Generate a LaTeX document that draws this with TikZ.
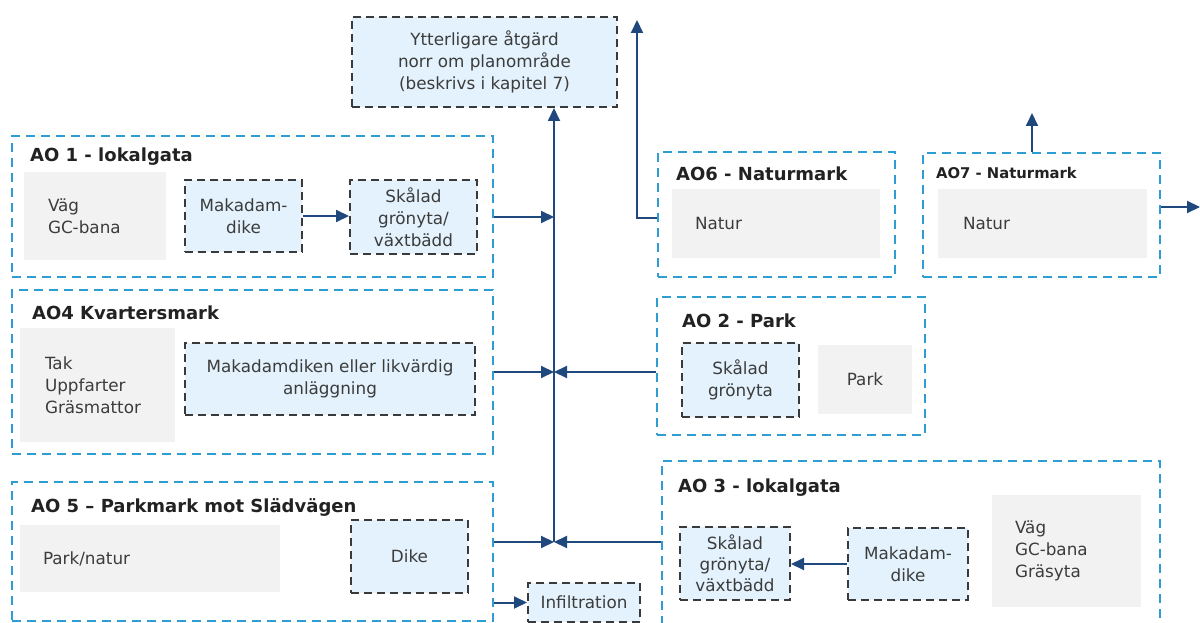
\documentclass[tikz,border=0pt]{standalone}
\usepackage{fontspec}
\setmainfont{DejaVu Sans}
\usetikzlibrary{arrows.meta}
\definecolor{cyanb}{HTML}{2E9DD4}
\definecolor{lblue}{HTML}{E3F2FC}
\definecolor{greyf}{HTML}{F2F2F2}
\definecolor{darkd}{HTML}{3A3A3A}
\definecolor{navy}{HTML}{1F497D}
\definecolor{txt}{HTML}{3C3C3C}
\definecolor{ttlc}{HTML}{222222}
\tikzset{
  aobox/.style={draw=cyanb, fill=white, line width=2.2pt, dash pattern=on 9pt off 6pt, inner sep=0pt},
  mbox/.style={draw=darkd, fill=lblue, line width=2pt, dash pattern=on 8pt off 5pt, inner sep=0pt, align=center, text=txt, font=\fontsize{16.8}{22}\selectfont},
  gbox/.style={fill=greyf, draw=none, inner ysep=0pt, align=left, text=txt, font=\fontsize{16.8}{22}\selectfont},
  ttl/.style={anchor=west, inner sep=0pt, text=ttlc, font=\fontsize{18}{21}\selectfont\bfseries},
  arr/.style={draw=navy, line width=2pt, -{Triangle[length=13pt,width=12pt]}}
}
\begin{document}
\begin{tikzpicture}[x=1pt,y=-1pt]
\useasboundingbox (0,0) rectangle (1200,623);
\clip (0,0) rectangle (1200,623);
\fill[white] (0,0) rectangle (1200,623);

% top box
\node[mbox, minimum width=265, minimum height=90] (ytt) at (484.5,62) {Ytterligare åtgärd\\norr om planområde\\(beskrivs i kapitel 7)};

% AO1
\node[aobox, minimum width=481, minimum height=141] (ao1) at (252.5,206.5) {};
\node[ttl] (ao1t) at (30,157) {AO 1 - lokalgata};
\node[gbox, inner xsep=24pt, text width=94pt, minimum height=88] (ao1g) at (95,216) {Väg\\GC-bana};
\node[mbox, minimum width=117, minimum height=72] (ao1m) at (243.5,216) {Makadam-\\dike};
\node[mbox, minimum width=127, minimum height=74] (ao1s) at (413.5,217) {Skålad\\grönyta/\\växtbädd};

% AO4
\node[aobox, minimum width=481, minimum height=164] (ao4) at (252.5,372) {};
\node[ttl] (ao4t) at (32,313) {AO4 Kvartersmark};
\node[gbox, inner xsep=25pt, text width=105pt, minimum height=114] (ao4g) at (97.5,385) {Tak\\Uppfarter\\Gräsmattor};
\node[mbox, minimum width=290, minimum height=72] (ao4m) at (330,379) {Makadamdiken eller likvärdig\\anläggning};

% AO5
\node[aobox, minimum width=481, minimum height=139] (ao5) at (252.5,551.5) {};
\node[ttl] (ao5t) at (31,507) {AO 5 – Parkmark mot Slädvägen};
\node[gbox, inner xsep=23pt, text width=214pt, minimum height=67] (ao5g) at (150,558.5) {Park/natur};
\node[mbox, minimum width=117, minimum height=73] (ao5d) at (409.5,556.5) {Dike};
\node[mbox, minimum width=112, minimum height=39] (inf) at (584,602.5) {Infiltration};

% AO6
\node[aobox, minimum width=237, minimum height=125] (ao6) at (776.5,214.5) {};
\node[ttl] (ao6t) at (676,174) {AO6 - Naturmark};
\node[gbox, inner xsep=23pt, text width=162pt, minimum height=69] (ao6g) at (776,223.5) {Natur};

% AO7
\node[aobox, minimum width=237, minimum height=124] (ao7) at (1041.5,215) {};
\node[ttl, font=\fontsize{14.8}{18}\selectfont\bfseries] (ao7t) at (936,173) {AO7 - Naturmark};
\node[gbox, inner xsep=25pt, text width=159pt, minimum height=69] (ao7g) at (1042.5,223.5) {Natur};

% AO2
\node[aobox, minimum width=268, minimum height=138] (ao2) at (791,366) {};
\node[ttl] (ao2t) at (682,321) {AO 2 - Park};
\node[mbox, minimum width=117, minimum height=74] (ao2s) at (740.5,380) {Skålad\\grönyta};
\node[gbox, align=center, inner xsep=0pt, minimum width=94, minimum height=69] (ao2p) at (865,379.5) {Park};

% AO3
\node[aobox, minimum width=498, minimum height=169] (ao3) at (911,545.5) {};
\node[ttl] (ao3t) at (678,488) {AO 3 - lokalgata};
\node[mbox, minimum width=110, minimum height=73, font=\fontsize{16.8}{21}\selectfont] (ao3s) at (735,563.5) {Skålad\\grönyta/\\växtbädd};
\node[mbox, minimum width=120, minimum height=72] (ao3m) at (908,564) {Makadam-\\dike};
\node[gbox, inner xsep=23pt, text width=103pt, minimum height=112] (ao3g) at (1066.5,551) {Väg\\GC-bana\\Gräsyta};

% coordinates
\coordinate (j1) at (554,217);
\coordinate (j2) at (554,372);
\coordinate (j3) at (554,542);
\coordinate (k6) at (637,218);
\coordinate (up6) at (637,20);
\coordinate (up7) at (1032,113);
\coordinate (r7) at (1200,207);

% connectors
\draw[arr] (ao1m.east) -- (ao1s.west |- ao1m.east);
\draw[arr] (ao3m.west) -- (ao3s.east |- ao3m.west);
\draw[arr] (ao1.east |- j1) -- (j1);
\draw[arr] (ao4.east |- j2) -- (j2);
\draw[arr] (ao2.west |- j2) -- (j2);
\draw[arr] (ao5.east |- j3) -- (j3);
\draw[arr] (ao3.west |- j3) -- (j3);
\draw[arr] (j3) -- (ytt.south -| j3);
\draw[arr] (ao5.east |- inf.west) -- (inf.west);
\draw[arr] (ao6.west |- k6) -- (k6) -- (up6);
\draw[arr] (ao7.north -| up7) -- (up7);
\draw[arr] (ao7.east |- r7) -- (r7);
\end{tikzpicture}
\end{document}
